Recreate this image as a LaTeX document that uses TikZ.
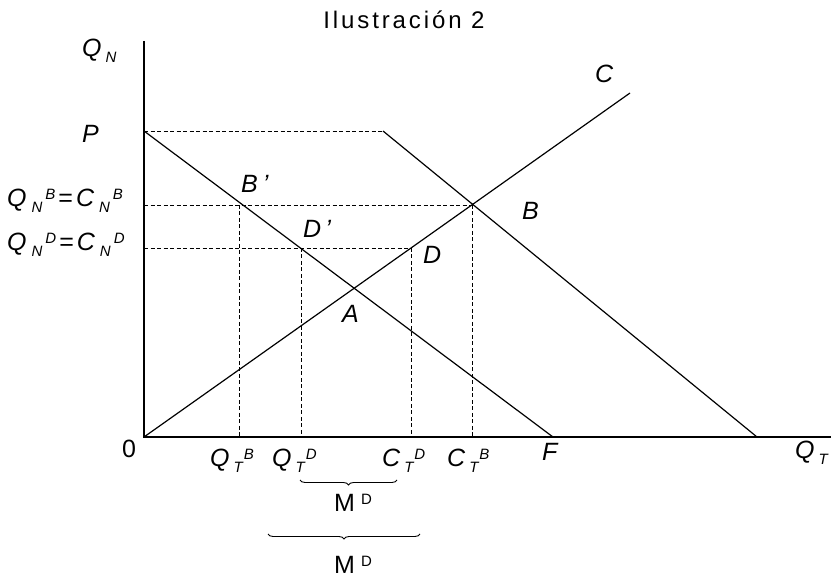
\documentclass[tikz,border=0pt]{standalone}
\usepackage{fontspec}
\setmainfont{Liberation Sans}
\usetikzlibrary{decorations.pathreplacing}
\newcommand{\smf}{\fontsize{15}{15}\selectfont}
\newcommand{\lbsub}[1]{\raisebox{-5.5pt}{\smf #1}}
\newcommand{\lbsup}[1]{\raisebox{7pt}{\smf #1}}
\newcommand{\lbl}[3]{#1\hspace{4pt}\lbsub{#2}\hspace{1pt}\lbsup{#3}}
\newcommand{\lbw}[3]{#1\hspace{5pt}\lbsub{#2}\hspace{3pt}\lbsup{#3}}
\tikzset{
  ax/.style={line width=1.3pt},
  curve/.style={line width=1.2pt},
  guide/.style={line width=0.9pt, dash pattern=on 4pt off 2.5pt},
  lab/.style={inner sep=0pt, anchor=base west, font=\fontsize{25}{25}\selectfont\itshape},
  ulab/.style={inner sep=0pt, anchor=base west, font=\fontsize{25}{25}\selectfont},
  brc/.style={decorate, decoration={brace, mirror, amplitude=5pt, aspect=0.5}, line width=0.9pt}
}
\begin{document}
\begin{tikzpicture}[x=1pt,y=-1pt]
\useasboundingbox (0,0) rectangle (831,577);
% coordinates
\coordinate (O) at (144,437);
\coordinate (Ytop) at (144,41);
\coordinate (Xend) at (831,437);
\coordinate (P) at (144,131);
\coordinate (K) at (383,131);
\coordinate (G) at (757,437);
\coordinate (F) at (553,437);
\coordinate (Cend) at (630,93);
\coordinate (Bx) at (472,205);
\coordinate (Bl) at (144,205);
\coordinate (Bp) at (239,205);
\coordinate (Bpb) at (239,437);
\coordinate (Bxb) at (472,437);
\coordinate (Dx) at (411,248);
\coordinate (Dl) at (144,248);
\coordinate (Dp) at (301,248);
\coordinate (Dpb) at (301,437);
\coordinate (Dxb) at (411,437);
% guides
\draw[guide] (P) -- (K);
\draw[guide] (Bl) -- (Bx);
\draw[guide] (Dl) -- (Dx);
\draw[guide] (Bp) -- (Bpb);
\draw[guide] (Bx) -- (Bxb);
\draw[guide] (Dp) -- (Dpb);
\draw[guide] (Dx) -- (Dxb);
% axes
\draw[ax] (Ytop) -- (O) -- (Xend);
% lines
\draw[curve] (P) -- (F);
\draw[curve] (K) -- (G);
\draw[curve] (O) -- (Cend);
% title
\node[inner sep=0pt, anchor=base, font=\fontsize{24}{24}\selectfont\addfontfeature{LetterSpace=12}] (title) at (404,29) {Ilustración 2};
% labels
\node[lab] (lQN) at (82,57) {\lbl{Q}{N}{}};
\node[lab] (lP) at (82,143) {P};
\node[lab] (lC) at (595,83) {C};
\node[lab] (lBp) at (241,193) {B\hspace{5pt}'};
\node[lab] (lB) at (522,220) {B};
\node[lab] (lDp) at (303,238) {D\hspace{4pt}'};
\node[lab] (lD) at (423,264) {D};
\node[lab] (lA) at (342,323) {A};
\node[ulab] (l0) at (122,458) {0};
\node[lab] (lQNB) at (7,207) {\lbw{Q}{N}{B}\hspace{3pt}{\upshape =}\hspace{3pt}\lbw{C}{N}{B}};
\node[lab] (lQND) at (7,251) {\lbw{Q}{N}{D}\hspace{3pt}{\upshape =}\hspace{3pt}\lbw{C}{N}{D}};
\node[lab] (lQTB) at (210,467) {\lbl{Q}{T}{B}};
\node[lab] (lQTD) at (272,467) {\lbl{Q}{T}{D}};
\node[lab] (lCTD) at (382,467) {\lbl{C}{T}{D}};
\node[lab] (lCTB) at (447,467) {\lbl{C}{T}{B}};
\node[lab] (lF) at (542,461) {F};
\node[lab] (lQT) at (795,459) {\lbl{Q}{T}{}};
% braces
\coordinate (b1a) at (300,480);
\coordinate (b1b) at (397,480);
\coordinate (b2a) at (268,534);
\coordinate (b2b) at (420,534);
\draw[brc] (b1a) -- (b1b);
\draw[brc] (b2a) -- (b2b);
\node[ulab] (lM1) at (334,512) {M\hspace{6pt}\raisebox{7pt}{\smf D}};
\node[ulab] (lM2) at (334,573) {M\hspace{6pt}\raisebox{7pt}{\smf D}};
\end{tikzpicture}
\end{document}
